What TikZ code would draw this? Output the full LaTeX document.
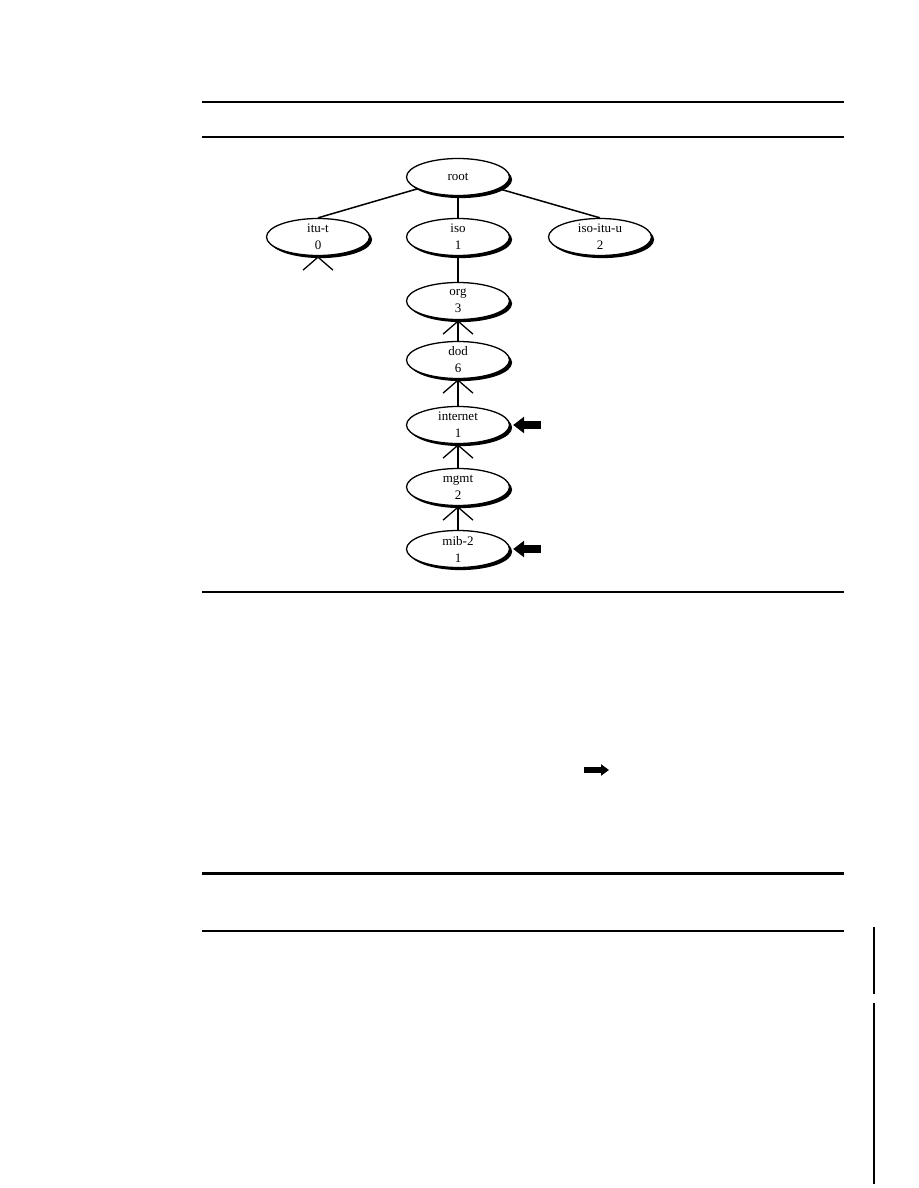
\documentclass[tikz,border=0pt]{standalone}
\usepackage{fontspec}
\setmainfont{Liberation Serif}
\usetikzlibrary{shapes.geometric,arrows.meta,shadows}
\begin{document}
\begin{tikzpicture}[x=1pt,y=-1pt,
  oid/.style={ellipse, draw, line width=1.3pt, fill=white,
    minimum width=103pt, minimum height=37pt, inner sep=0pt, align=center,
    font=\fontsize{13}{17}\selectfont,
    drop shadow={shadow xshift=2.6pt, shadow yshift=-2.6pt, fill=black, opacity=1}},
  edge/.style={line width=1.5pt},
  rule/.style={line width=1.2pt},
  foot/.style={line width=1.3pt},
  bigarrow/.style={line width=7.5pt, -{Triangle[length=11pt,width=16pt]}},
  smallarrow/.style={line width=6pt, -{Triangle[length=8pt,width=11pt]}}
]
\useasboundingbox (0,0) rectangle (918,1188);

% rules
\coordinate (r1a) at (202,102); \coordinate (r1b) at (844,102);
\coordinate (r2a) at (202,137); \coordinate (r2b) at (844,137);
\coordinate (r3a) at (202,592); \coordinate (r3b) at (844,592);
\coordinate (r4a) at (202,873); \coordinate (r4b) at (844,873);
\coordinate (r5a) at (202,931); \coordinate (r5b) at (844,931);
\coordinate (v1a) at (874,927); \coordinate (v1b) at (874,994);
\coordinate (v2a) at (874,1003); \coordinate (v2b) at (874,1184);
\draw[rule] (r1a) -- (r1b);
\draw[rule] (r2a) -- (r2b);
\draw[rule] (r3a) -- (r3b);
\draw[line width=3pt] (r4a) -- (r4b);
\draw[line width=2pt] (r5a) -- (r5b);
\draw[line width=1.6pt] (v1a) -- (v1b);
\draw[line width=1.6pt] (v2a) -- (v2b);

% tree nodes
\node[oid] (root) at (458,177) {root};
\node[oid] (itut) at (318,237) {itu-t\\0};
\node[oid] (iso) at (458,237) {iso\\1};
\node[oid] (isoitu) at (600,237) {iso-itu-u\\2};
\node[oid] (org) at (458,301) {org\\3};
\node[oid] (dod) at (458,360) {dod\\6};
\node[oid] (internet) at (458,425) {internet\\1};
\node[oid] (mgmt) at (458,487) {mgmt\\2};
\node[oid] (mib) at (458,549) {mib-2\\1};

% connectors
\draw[edge] (root) -- (itut.north);
\draw[edge] (root) -- (iso);
\draw[edge] (root) -- (isoitu.north);
\draw[edge] (iso) -- (org);
\draw[edge] (org) -- (dod);
\draw[edge] (dod) -- (internet);
\draw[edge] (internet) -- (mgmt);
\draw[edge] (mgmt) -- (mib);

% crow's feet
\foreach \n in {itut,org,dod,internet,mgmt}{
  \draw[foot] ([shift={(-15,14)}]\n.south) -- ([yshift=-1pt]\n.south) -- ([shift={(15,14)}]\n.south);
}

% pointer arrows
\coordinate (ai) at (541,425);
\coordinate (am) at (541,549);
\draw[bigarrow] (ai) -- ([xshift=3pt]internet.east);
\draw[bigarrow] (am) -- ([xshift=3pt]mib.east);

\coordinate (sa) at (584,770);
\coordinate (sb) at (609,770);
\draw[smallarrow] (sa) -- (sb);
\end{tikzpicture}
\end{document}
